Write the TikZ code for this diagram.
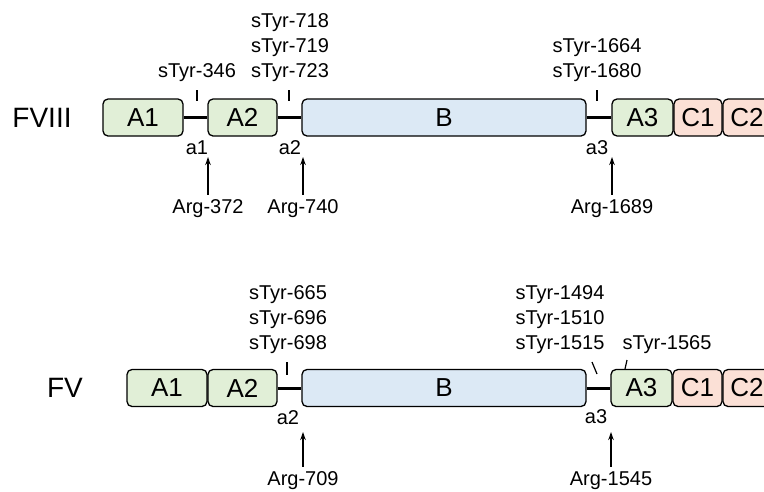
\documentclass[tikz,border=0pt]{standalone}
\usepackage{fontspec}
\setmainfont{Liberation Sans}
\usetikzlibrary{arrows.meta}
\definecolor{dgreen}{HTML}{E1EFD7}
\definecolor{dblue}{HTML}{DCE9F5}
\definecolor{dpeach}{HTML}{FBE0D6}
\begin{document}
\begin{tikzpicture}[x=1pt,y=-1pt,
  dom/.style={draw=black,line width=1.3pt,rounded corners=5pt,inner sep=0pt,
    font=\fontsize{26}{28}\selectfont,minimum height=37pt},
  gdom/.style={dom,fill=dgreen},
  bdom/.style={dom,fill=dblue},
  pdom/.style={dom,fill=dpeach},
  link/.style={line width=3pt},
  tick/.style={line width=1.2pt},
  lbl/.style={inner sep=0pt,font=\fontsize{20}{25}\selectfont,align=center},
  big/.style={inner sep=0pt,font=\fontsize{28}{30}\selectfont},
  arr/.style={line width=1.3pt,-{Stealth[length=8pt,width=5.5pt]}}]
\useasboundingbox (0,0) rectangle (764,491);
\clip (0,0) rectangle (764,491);
% ---------- FVIII ----------
\node[big] (f8) at (42,117.5) {FVIII};
\node[gdom,minimum width=80pt] (a1) at (143,117.5) {A1};
\node[gdom,minimum width=69pt] (a2) at (242.5,117.5) {A2};
\node[bdom,minimum width=284pt] (b) at (444,117.5) {B};
\node[gdom,minimum width=61pt] (a3) at (642.5,117.5) {A3};
\node[pdom,minimum width=48pt] (c1) at (698,117.5) {C1};
\node[pdom,minimum width=48pt] (c2) at (747,117.5) {C2};
\draw[link] (a1.east) -- (a2.west);
\draw[link] (a2.east) -- (b.west);
\draw[link] (b.east) -- (a3.west);
% sulfation sites
\node[lbl,anchor=south] (s1) at (197,82) {sTyr-346};
\node[lbl,anchor=south] (s2) at (290,82) {sTyr-718\\sTyr-719\\sTyr-723};
\node[lbl,anchor=south] (s3) at (597,82) {sTyr-1664\\sTyr-1680};
\coordinate (t1a) at (197,90); \coordinate (t1b) at (197,101);
\coordinate (t2a) at (289,90); \coordinate (t2b) at (289,101);
\coordinate (t3a) at (597,90); \coordinate (t3b) at (597,101);
\draw[tick] (t1a) -- (t1b);
\draw[tick] (t2a) -- (t2b);
\draw[tick] (t3a) -- (t3b);
% cleavage
\node[lbl] (k1) at (197,148) {a1};
\node[lbl] (k2) at (290,148) {a2};
\node[lbl] (k3) at (597,148) {a3};
\node[lbl] (r1) at (208,209) {Arg-372};
\node[lbl] (r2) at (303,209) {Arg-740};
\node[lbl] (r3) at (612,209) {Arg-1689};
\coordinate (p1) at (208,157);
\coordinate (p2) at (303,157);
\coordinate (p3) at (612,157);
\draw[arr] (r1.north) ++(0,-5) -- (p1);
\draw[arr] (r2.north) ++(0,-5) -- (p2);
\draw[arr] (r3.north) ++(0,-5) -- (p3);
% ---------- FV ----------
\node[big] (f5) at (65,388) {FV};
\node[gdom,minimum width=80pt] (v1) at (167,388) {A1};
\node[gdom,minimum width=69pt] (v2) at (242.5,388) {A2};
\node[bdom,minimum width=284pt] (vb) at (444,388) {B};
\node[gdom,minimum width=61pt] (v3) at (641.5,388) {A3};
\node[pdom,minimum width=49pt] (vc1) at (697.5,388) {C1};
\node[pdom,minimum width=48pt] (vc2) at (747,388) {C2};
\draw[link] (v2.east) -- (vb.west);
\draw[link] (vb.east) -- (v3.west);
\node[lbl,anchor=south] (u1) at (288,354) {sTyr-665\\sTyr-696\\sTyr-698};
\node[lbl,anchor=south] (u2) at (560,354) {sTyr-1494\\sTyr-1510\\sTyr-1515};
\node[lbl,anchor=south] (u3) at (667,354) {sTyr-1565};
\coordinate (w1a) at (287,362); \coordinate (w1b) at (287,375);
\coordinate (w2a) at (592,362); \coordinate (w2b) at (597,374);
\coordinate (w3a) at (627,360); \coordinate (w3b) at (625,369);
\draw[tick] (w1a) -- (w1b);
\draw[tick] (w2a) -- (w2b);
\draw[tick] (w3a) -- (w3b);
\node[lbl] (m2) at (288,418) {a2};
\node[lbl] (m3) at (596,417) {a3};
\node[lbl] (q2) at (303,481) {Arg-709};
\node[lbl] (q3) at (611,481) {Arg-1545};
\coordinate (o2) at (303,432);
\coordinate (o3) at (611,432);
\draw[arr] (q2.north) ++(0,-5) -- (o2);
\draw[arr] (q3.north) ++(0,-5) -- (o3);
\end{tikzpicture}
\end{document}
